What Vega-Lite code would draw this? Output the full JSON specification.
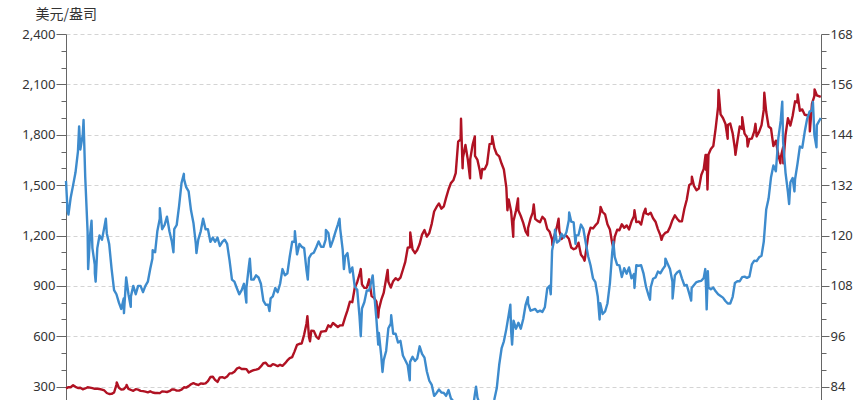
{
"$schema":"https://vega.github.io/schema/vega-lite/v6.json",
"width":755,"height":403,
"autosize":{"type":"none"},
"padding":{"left":66,"top":34,"right":42,"bottom":0},
"background":"white",
"config":{"view":{"stroke":null},"axis":{"labelFont":"Noto Sans","labelFontSize":13,"labelColor":"#333333","domainColor":"#666666","tickColor":"#666666","titleFont":"Noto Sans CJK SC"}},
"data":{"values":[
{"d":"1998-01","g":289,"j":133},{"d":"1998-01-20","j":126},{"d":"1998-02","g":297,"j":125},{"d":"1998-03","g":296,"j":129},{"d":"1998-04","g":308,"j":132},{"d":"1998-05","g":299,"j":135},{"d":"1998-06","g":292,"j":140},{"d":"1998-06-16","j":146},{"d":"1998-07","g":293,"j":140.5},{"d":"1998-08","g":284,"j":144},{"d":"1998-08-11","j":147.5},{"d":"1998-09","g":289,"j":134},{"d":"1998-10","g":296,"j":121},{"d":"1998-10-08","j":112},{"d":"1998-11","g":294,"j":120},{"d":"1998-11-20","j":123.5},{"d":"1998-12","g":291,"j":117},{"d":"1998-12-31","j":113},
{"d":"1999-01","g":287,"j":111},{"d":"1999-01-11","j":109},{"d":"1999-02","g":287,"j":117},{"d":"1999-03","g":286,"j":120},{"d":"1999-04","g":282,"j":119},{"d":"1999-05","g":277,"j":122},{"d":"1999-05-20","j":124},{"d":"1999-06","g":262,"j":120.5},{"d":"1999-07","g":256,"j":118},{"d":"1999-08","g":257,"j":112},{"d":"1999-09","g":265,"j":107},{"d":"1999-10","g":311,"j":106},{"d":"1999-10-05","g":325},{"d":"1999-11","g":293,"j":104},{"d":"1999-12","g":283,"j":102.5},
{"d":"2000-01","g":284,"j":105},{"d":"2000-01-04","j":101.5},{"d":"2000-02","g":300,"j":110},{"d":"2000-02-07","g":310},{"d":"2000-03","g":286,"j":106},{"d":"2000-03-30","j":103},{"d":"2000-04","g":280,"j":105.5},{"d":"2000-05","g":275,"j":108},{"d":"2000-06","g":285,"j":106},{"d":"2000-07","g":282,"j":108},{"d":"2000-08","g":275,"j":108},{"d":"2000-09","g":273,"j":106.5},{"d":"2000-10","g":270,"j":108},{"d":"2000-11","g":266,"j":109},{"d":"2000-12","g":272,"j":112},{"d":"2000-12-29","j":114.5},
{"d":"2001-01","g":265,"j":116.5},{"d":"2001-02","g":262,"j":116},{"d":"2001-03","g":263,"j":121},{"d":"2001-04","g":261,"j":124},{"d":"2001-04-02","j":126.5},{"d":"2001-05","g":272,"j":121.5},{"d":"2001-06","g":270,"j":122.5},{"d":"2001-07","g":268,"j":124.5},{"d":"2001-08","g":273,"j":121},{"d":"2001-09","g":283,"j":118.5},{"d":"2001-09-21","j":116},{"d":"2001-10","g":283,"j":121.5},{"d":"2001-11","g":276,"j":122.5},{"d":"2001-12","g":276,"j":127},
{"d":"2002-01","g":282,"j":132.5},{"d":"2002-01-31","j":134.7},{"d":"2002-02","g":296,"j":133.5},{"d":"2002-03","g":294,"j":131.5},{"d":"2002-04","g":303,"j":130.5},{"d":"2002-05","g":314,"j":126},{"d":"2002-06","g":321,"j":123},{"d":"2002-07","g":314,"j":118},{"d":"2002-07-09","j":115.8},{"d":"2002-08","g":310,"j":119},{"d":"2002-09","g":319,"j":121},{"d":"2002-10","g":317,"j":124},{"d":"2002-11","g":319,"j":121.5},{"d":"2002-12","g":333,"j":121.5},
{"d":"2003-01","g":357,"j":118.5},{"d":"2003-02","g":359,"j":119.5},{"d":"2003-03","g":340,"j":118.5},{"d":"2003-04","g":328,"j":119.5},{"d":"2003-05","g":355,"j":117.5},{"d":"2003-06","g":356,"j":118.5},{"d":"2003-07","g":351,"j":119},{"d":"2003-08","g":360,"j":118},{"d":"2003-09","g":379,"j":114},{"d":"2003-10","g":379,"j":109.5},{"d":"2003-11","g":389,"j":109},{"d":"2003-12","g":407,"j":107.5},
{"d":"2004-01","g":414,"j":106},{"d":"2004-02","g":405,"j":107},{"d":"2004-03","g":406,"j":108.5},{"d":"2004-03-31","j":104},{"d":"2004-04","g":404,"j":107.5},{"d":"2004-05","g":384,"j":112.5},{"d":"2004-05-14","j":114.5},{"d":"2004-06","g":392,"j":109.5},{"d":"2004-07","g":398,"j":109.5},{"d":"2004-08","g":401,"j":110.5},{"d":"2004-09","g":406,"j":110},{"d":"2004-10","g":420,"j":108.5},{"d":"2004-11","g":439,"j":104.5},{"d":"2004-12","g":442,"j":103.5},
{"d":"2005-01","g":424,"j":103.5},{"d":"2005-01-17","j":102},{"d":"2005-02","g":423,"j":105},{"d":"2005-03","g":434,"j":105.5},{"d":"2005-04","g":429,"j":107.5},{"d":"2005-05","g":422,"j":106.5},{"d":"2005-06","g":430,"j":108.5},{"d":"2005-07","g":424,"j":112},{"d":"2005-08","g":438,"j":110.5},{"d":"2005-09","g":456,"j":111},{"d":"2005-10","g":470,"j":115},{"d":"2005-11","g":476,"j":118.5},{"d":"2005-12","g":510,"j":118.5},{"d":"2005-12-05","j":121},
{"d":"2006-01","g":549,"j":115.5},{"d":"2006-02","g":555,"j":118},{"d":"2006-03","g":557,"j":117.3},{"d":"2006-04","g":610,"j":117},{"d":"2006-05","g":676,"j":111.7},{"d":"2006-05-12","g":720},{"d":"2006-05-17","j":109.5},{"d":"2006-06","g":596,"j":114.6},{"d":"2006-06-14","g":570},{"d":"2006-07","g":633,"j":115.6},{"d":"2006-08","g":632,"j":115.9},{"d":"2006-09","g":598,"j":117.2},{"d":"2006-10","g":585,"j":118.6},{"d":"2006-11","g":627,"j":117.3},{"d":"2006-12","g":629,"j":117.3},{"d":"2006-12-29","j":119},
{"d":"2007-01","g":631,"j":121.3},{"d":"2007-02","g":665,"j":120.6},{"d":"2007-03","g":655,"j":117.3},{"d":"2007-04","g":679,"j":118.9},{"d":"2007-05","g":667,"j":120.8},{"d":"2007-06","g":655,"j":122.6},{"d":"2007-06-22","j":124},{"d":"2007-07","g":665,"j":121.6},{"d":"2007-08","g":665,"j":116.7},{"d":"2007-08-17","j":112},{"d":"2007-09","g":712,"j":115},{"d":"2007-10","g":754,"j":115.8},{"d":"2007-11","g":806,"j":111.2},{"d":"2007-12","g":803,"j":112.4},
{"d":"2008-01","g":889,"j":107.8},{"d":"2008-02","g":922,"j":107.1},{"d":"2008-03","g":968,"j":100.8},{"d":"2008-03-17","g":1000,"j":96},{"d":"2008-04","g":909,"j":102.6},{"d":"2008-05","g":888,"j":104.1},{"d":"2008-06","g":889,"j":106.9},{"d":"2008-07","g":939,"j":106.9},{"d":"2008-08","g":839,"j":109.3},{"d":"2008-08-15","j":110.5},{"d":"2008-09","g":829,"j":106.6},{"d":"2008-10","g":806,"j":100.1},{"d":"2008-10-24","g":712,"j":94},{"d":"2008-11","g":760,"j":96.8},{"d":"2008-12","g":816,"j":91.3},{"d":"2008-12-17","j":87.5},
{"d":"2009-01","g":858,"j":90.3},{"d":"2009-02","g":943,"j":92.5},{"d":"2009-02-20","g":995},{"d":"2009-03","g":924,"j":97.9},{"d":"2009-04","g":890,"j":99},{"d":"2009-04-06","j":101},{"d":"2009-05","g":928,"j":96.6},{"d":"2009-06","g":946,"j":96.6},{"d":"2009-07","g":934,"j":94.5},{"d":"2009-08","g":949,"j":94.9},{"d":"2009-09","g":996,"j":91.4},{"d":"2009-10","g":1043,"j":90.3},{"d":"2009-11","g":1127,"j":89.1},{"d":"2009-11-27","j":85.5},{"d":"2009-12","g":1130,"j":89.9},{"d":"2009-12-03","g":1218},
{"d":"2010-01","g":1117,"j":91.1},{"d":"2010-02","g":1095,"j":90.1},{"d":"2010-03","g":1114,"j":90.7},{"d":"2010-04","g":1149,"j":93.6},{"d":"2010-05","g":1205,"j":91.8},{"d":"2010-06","g":1232,"j":90.9},{"d":"2010-07","g":1193,"j":87.6},{"d":"2010-08","g":1215,"j":85.4},{"d":"2010-09","g":1271,"j":84.4},{"d":"2010-10","g":1343,"j":81.8},{"d":"2010-11","g":1370,"j":82.5},{"d":"2010-12","g":1391,"j":83.3},
{"d":"2011-01","g":1360,"j":82.6},{"d":"2011-02","g":1374,"j":82.5},{"d":"2011-03","g":1424,"j":81.8},{"d":"2011-04","g":1474,"j":83.2},{"d":"2011-05","g":1512,"j":81.2},{"d":"2011-06","g":1529,"j":80.5},{"d":"2011-07","g":1572,"j":79.3},{"d":"2011-08","g":1759,"j":77.1},{"d":"2011-09","g":1772,"j":76.8},{"d":"2011-09-06","g":1895},{"d":"2011-09-26","g":1600},{"d":"2011-10","g":1665,"j":76.7},{"d":"2011-11","g":1739,"j":77.5},{"d":"2011-12","g":1652,"j":77.8},{"d":"2011-12-29","g":1540},
{"d":"2012-01","g":1656,"j":76.9},{"d":"2012-02","g":1743,"j":78.5},{"d":"2012-02-28","g":1790},{"d":"2012-03","g":1674,"j":82.4},{"d":"2012-03-14","j":84},{"d":"2012-04","g":1650,"j":81.4},{"d":"2012-05","g":1585,"j":79.7},{"d":"2012-05-16","g":1540},{"d":"2012-06","g":1596,"j":79.3},{"d":"2012-07","g":1594,"j":78.9},{"d":"2012-08","g":1626,"j":78.7},{"d":"2012-09","g":1744,"j":78.2},{"d":"2012-10","g":1747,"j":79},{"d":"2012-10-04","g":1792},{"d":"2012-11","g":1721,"j":81},{"d":"2012-12","g":1684,"j":83.6},
{"d":"2013-01","g":1671,"j":89.2},{"d":"2013-02","g":1627,"j":93.2},{"d":"2013-03","g":1593,"j":94.8},{"d":"2013-04","g":1487,"j":97.7},{"d":"2013-04-15","g":1350},{"d":"2013-05","g":1414,"j":101.1},{"d":"2013-05-22","j":103.5},{"d":"2013-06","g":1343,"j":97.3},{"d":"2013-06-13","j":94},{"d":"2013-06-28","g":1192},{"d":"2013-07","g":1286,"j":99.7},{"d":"2013-08","g":1347,"j":97.8},{"d":"2013-08-27","g":1420},{"d":"2013-09","g":1349,"j":99.2},{"d":"2013-10","g":1316,"j":97.8},{"d":"2013-11","g":1275,"j":100.1},{"d":"2013-12","g":1225,"j":103.5},{"d":"2013-12-31","g":1200,"j":105.3},
{"d":"2014-01","g":1244,"j":103.8},{"d":"2014-02","g":1300,"j":102.1},{"d":"2014-03","g":1336,"j":102.3},{"d":"2014-03-14","g":1385},{"d":"2014-04","g":1299,"j":102.5},{"d":"2014-05","g":1287,"j":101.8},{"d":"2014-06","g":1279,"j":102.1},{"d":"2014-07","g":1311,"j":101.8},{"d":"2014-08","g":1296,"j":102.9},{"d":"2014-09","g":1239,"j":107.4},{"d":"2014-10","g":1222,"j":108},{"d":"2014-10-15","j":106},{"d":"2014-11","g":1176,"j":116.4},{"d":"2014-11-05","g":1142},{"d":"2014-12","g":1201,"j":119.4},{"d":"2014-12-08","j":121.4},
{"d":"2015-01","g":1251,"j":118.3},{"d":"2015-01-22","g":1300},{"d":"2015-02","g":1227,"j":118.8},{"d":"2015-03","g":1179,"j":120.4},{"d":"2015-04","g":1198,"j":119.5},{"d":"2015-05","g":1199,"j":120.8},{"d":"2015-06","g":1181,"j":123.7},{"d":"2015-06-05","j":125.5},{"d":"2015-07","g":1128,"j":123.3},{"d":"2015-08","g":1118,"j":123.1},{"d":"2015-08-24","j":118},{"d":"2015-09","g":1125,"j":120},{"d":"2015-10","g":1157,"j":120.1},{"d":"2015-11","g":1086,"j":122.6},{"d":"2015-12","g":1068,"j":121.6},{"d":"2015-12-17","g":1050},
{"d":"2016-01","g":1097,"j":118.2},{"d":"2016-02","g":1199,"j":115},{"d":"2016-03","g":1246,"j":112.9},{"d":"2016-04","g":1242,"j":109.8},{"d":"2016-05","g":1260,"j":108.9},{"d":"2016-06","g":1276,"j":105.4},{"d":"2016-06-24","j":100},{"d":"2016-07","g":1337,"j":103.9},{"d":"2016-07-06","g":1370},{"d":"2016-08","g":1340,"j":101.3},{"d":"2016-09","g":1326,"j":101.9},{"d":"2016-10","g":1267,"j":103.8},{"d":"2016-11","g":1236,"j":108.6},{"d":"2016-12","g":1152,"j":116.1},{"d":"2016-12-15","g":1127,"j":118.5},
{"d":"2017-01","g":1192,"j":114.9},{"d":"2017-02","g":1234,"j":113},{"d":"2017-03","g":1231,"j":112.9},{"d":"2017-04","g":1267,"j":110.1},{"d":"2017-05","g":1246,"j":112.2},{"d":"2017-06","g":1260,"j":110.9},{"d":"2017-07","g":1236,"j":112.4},{"d":"2017-08","g":1283,"j":109.8},{"d":"2017-09","g":1314,"j":110.8},{"d":"2017-09-08","g":1350,"j":107.5},{"d":"2017-10","g":1280,"j":112.9},{"d":"2017-11","g":1283,"j":112.8},{"d":"2017-12","g":1265,"j":112.9},
{"d":"2018-01","g":1331,"j":110.9},{"d":"2018-01-25","g":1360},{"d":"2018-02","g":1331,"j":107.8},{"d":"2018-03","g":1325,"j":106},{"d":"2018-03-23","j":104.7},{"d":"2018-04","g":1335,"j":107.6},{"d":"2018-05","g":1303,"j":109.7},{"d":"2018-06","g":1282,"j":110},{"d":"2018-07","g":1238,"j":111.4},{"d":"2018-08","g":1202,"j":111},{"d":"2018-08-16","g":1174},{"d":"2018-09","g":1198,"j":112},{"d":"2018-10","g":1215,"j":112.8},{"d":"2018-10-04","j":114.5},{"d":"2018-11","g":1221,"j":113.3},{"d":"2018-12","g":1250,"j":112},
{"d":"2019-01","g":1291,"j":109},{"d":"2019-01-03","j":105},{"d":"2019-02","g":1320,"j":110.5},{"d":"2019-03","g":1300,"j":111.2},{"d":"2019-04","g":1284,"j":111.6},{"d":"2019-05","g":1284,"j":109.8},{"d":"2019-06","g":1359,"j":108.1},{"d":"2019-07","g":1413,"j":108.2},{"d":"2019-08","g":1500,"j":106.2},{"d":"2019-08-26","j":104.5},{"d":"2019-09","g":1511,"j":107.5},{"d":"2019-09-04","g":1550},{"d":"2019-10","g":1495,"j":108.2},{"d":"2019-11","g":1470,"j":108.9},{"d":"2019-12","g":1480,"j":109.1},
{"d":"2020-01","g":1560,"j":109.2},{"d":"2020-02","g":1597,"j":109.9},{"d":"2020-02-20","j":112},{"d":"2020-02-24","g":1680},{"d":"2020-03","g":1591,"j":107.6},{"d":"2020-03-09","g":1680,"j":102.4},{"d":"2020-03-19","g":1474},{"d":"2020-03-24","j":111.5},{"d":"2020-04","g":1683,"j":107.6},{"d":"2020-05","g":1715,"j":107.2},{"d":"2020-06","g":1733,"j":107.6},{"d":"2020-07","g":1840,"j":106.7},{"d":"2020-08","g":1968,"j":106},{"d":"2020-08-06","g":2067},{"d":"2020-09","g":1921,"j":105.6},{"d":"2020-10","g":1900,"j":105.2},{"d":"2020-11","g":1866,"j":104.4},{"d":"2020-11-30","g":1776},{"d":"2020-12","g":1858,"j":103.8},
{"d":"2021-01","g":1867,"j":103.8},{"d":"2021-02","g":1808,"j":105.4},{"d":"2021-03","g":1718,"j":108.7},{"d":"2021-03-08","g":1680},{"d":"2021-04","g":1760,"j":109.1},{"d":"2021-05","g":1850,"j":109.1},{"d":"2021-06","g":1834,"j":110.1},{"d":"2021-06-01","g":1905},{"d":"2021-07","g":1807,"j":110.2},{"d":"2021-08","g":1785,"j":109.9},{"d":"2021-08-09","g":1730},{"d":"2021-09","g":1775,"j":110.2},{"d":"2021-10","g":1777,"j":113.1},{"d":"2021-11","g":1820,"j":114},{"d":"2021-11-16","g":1865},{"d":"2021-12","g":1790,"j":113.9},
{"d":"2022-01","g":1817,"j":114.8},{"d":"2022-02","g":1857,"j":115.2},{"d":"2022-03","g":1948,"j":118.5},{"d":"2022-03-08","g":2050},{"d":"2022-04","g":1937,"j":126.2},{"d":"2022-05","g":1849,"j":128.8},{"d":"2022-06","g":1837,"j":133.9},{"d":"2022-07","g":1733,"j":136.7},{"d":"2022-08","g":1765,"j":135.3},{"d":"2022-09","g":1681,"j":143.1},{"d":"2022-09-28","g":1630},{"d":"2022-10","g":1665,"j":147.3},{"d":"2022-10-21","j":151.9},{"d":"2022-11","g":1726,"j":142.3},{"d":"2022-11-03","g":1630},{"d":"2022-12","g":1798,"j":135},
{"d":"2023-01","g":1898,"j":130.3},{"d":"2023-01-16","j":127.5},{"d":"2023-02","g":1855,"j":132.7},{"d":"2023-03","g":1912,"j":133.7},{"d":"2023-03-24","j":130.5},{"d":"2023-04","g":1999,"j":133.4},{"d":"2023-05","g":1992,"j":137},{"d":"2023-05-03","g":2040},{"d":"2023-06","g":1943,"j":141.2},{"d":"2023-07","g":1951,"j":140.9},{"d":"2023-08","g":1919,"j":144.7},{"d":"2023-09","g":1916,"j":147.8},{"d":"2023-10","g":1916,"j":149.5},{"d":"2023-10-05","g":1820},{"d":"2023-11","g":1985,"j":149.8},{"d":"2023-11-13","j":151.8},{"d":"2023-12","g":2030,"j":144},{"d":"2023-12-04","g":2070},{"d":"2023-12-28","j":141},
{"d":"2024-01","g":2035,"j":146.3},{"d":"2024-02-20","g":2025,"j":148}
]},
"encoding":{"x":{"field":"d","type":"temporal","scale":{"domain":[{"year":1998,"month":1,"date":1,"utc":true},{"year":2024,"month":2,"date":23,"utc":true}]},"axis":null}},
"layer":[
{"transform":[{"filter":"isValid(datum.g)"}],
 "mark":{"type":"line","color":"#b01223","strokeWidth":2.4,"strokeJoin":"round"},
 "encoding":{"y":{"field":"g","type":"quantitative","scale":{"domain":[0,2400],"nice":false,"zero":false},
  "axis":{"orient":"left","values":[0,100,200,300,400,500,600,700,800,900,1000,1100,1200,1300,1400,1500,1600,1700,1800,1900,2000,2100,2200,2300,2400],
   "format":",d","labelExpr":"datum.value % 300 === 0 ? datum.label : ''",
   "grid":true,"gridDash":[4,3],"gridColor":"#d4d4d4",
   "gridOpacity":{"condition":{"test":"datum.value % 300 === 0","value":1},"value":0},
   "tickSize":{"condition":{"test":"datum.value % 300 === 0","value":10},"value":5},
   "labelPadding":1,
   "title":"美元/盎司","titleAngle":0,"titleAlign":"left","titleBaseline":"middle","titleX":-31,"titleY":-20,"titleFontSize":14,"titleFontWeight":"normal","titleColor":"#333333"}}}},
{"transform":[{"filter":"isValid(datum.j)"}],
 "mark":{"type":"line","color":"#3d8bcd","strokeWidth":2.4,"strokeJoin":"round"},
 "encoding":{"y":{"field":"j","type":"quantitative","scale":{"domain":[72,168],"nice":false,"zero":false},
  "axis":{"orient":"right","values":[72,76,80,84,88,92,96,100,104,108,112,116,120,124,128,132,136,140,144,148,152,156,160,164,168],
   "labelExpr":"datum.value % 12 === 0 ? datum.label : ''",
   "grid":false,
   "tickSize":{"condition":{"test":"datum.value % 12 === 0","value":8},"value":5},
   "labelPadding":1,"title":null}}}}
],
"resolve":{"scale":{"y":"independent"}}
}
